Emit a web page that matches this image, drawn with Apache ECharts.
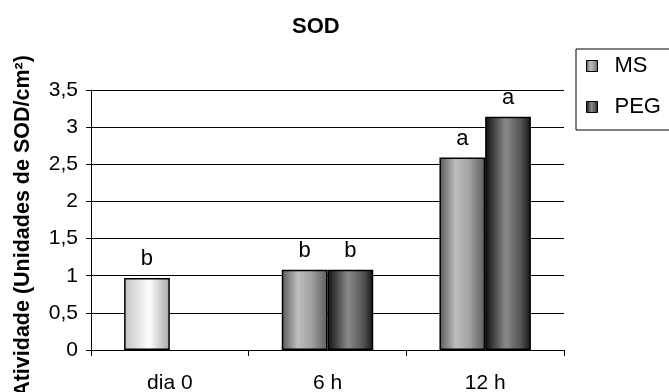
<!DOCTYPE html>
<html>
<head>
<meta charset="utf-8">
<script src="https://cdn.jsdelivr.net/npm/echarts@6/dist/echarts.min.js"></script>
<style>
  html, body { margin: 0; padding: 0; background: #fff; }
  #chart { width: 669px; height: 392px; }
</style>
</head>
<body>
<div id="chart"></div>
<script>
// SOD activity per sampling time
const categories = ['dia 0', '6 h', '12 h'];
const msValues = [0.97, 1.08, 2.59];
const pegValues = [null, 1.08, 3.14];
const msLetters = ['b', 'b', 'a'];
const pegLetters = ['', 'b', 'a'];
const yTicks = [0, 0.5, 1, 1.5, 2, 2.5, 3, 3.5];

const FONT = 'Liberation Sans, Arial, sans-serif';

function hGrad(stops) {
  return new echarts.graphic.LinearGradient(0, 0, 1, 0,
    stops.map(s => ({ offset: s[0], color: s[1] })));
}
const msFill = hGrad([[0, '#5a5a5a'], [0.35, '#bdbdbd'], [0.65, '#a2a2a2'], [1, '#5e5e5e']]);
const pegFill = hGrad([[0, '#101010'], [0.45, '#8a8a8a'], [0.8, '#505050'], [1, '#141414']]);
const baseFill = hGrad([[0, '#c2c2c2'], [0.55, '#ffffff'], [1, '#a6a6a6']]);

const chart = echarts.init(document.getElementById('chart'), null, { renderer: 'canvas' });

chart.setOption({
  animation: false,
  backgroundColor: '#ffffff',
  title: {
    text: 'SOD',
    left: 287,
    top: 11,
    textStyle: { fontFamily: FONT, fontSize: 22, fontWeight: 'bold', color: '#000' }
  },
  legend: {
    orient: 'vertical',
    left: 576,
    top: 49,
    padding: [6, 60, 12, 10],
    itemGap: 19,
    itemWidth: 11,
    itemHeight: 11,
    borderColor: '#000',
    borderWidth: 1,
    icon: 'rect',
    itemStyle: { borderColor: '#000', borderWidth: 1 },
    textStyle: { fontFamily: FONT, fontSize: 22, color: '#000', padding: [0, 0, 0, 12] },
    data: ['MS', 'PEG']
  },
  grid: { left: 91, right: 105, top: 90, bottom: 42, containLabel: false, outerBoundsMode: 'none' },
  xAxis: {
    type: 'category',
    data: categories,
    axisLine: { lineStyle: { color: '#000', width: 1 } },
    axisTick: { show: true, alignWithLabel: false, length: 6, lineStyle: { color: '#000' } },
    axisLabel: { fontFamily: FONT, fontSize: 21, color: '#000', margin: 23 }
  },
  yAxis: {
    type: 'value',
    min: yTicks[0],
    max: yTicks[yTicks.length - 1],
    interval: 0.5,
    name: 'Atividade (Unidades de SOD/cm²)',
    nameLocation: 'middle',
    nameRotate: 90,
    nameGap: 57,
    nameTextStyle: { fontFamily: FONT, fontSize: 21.5, fontWeight: 'bold', color: '#000', padding: [0, 12, 0, 0] },
    axisLine: { show: true, lineStyle: { color: '#000', width: 1 } },
    axisTick: { show: true, length: 5, lineStyle: { color: '#000' } },
    splitLine: { show: true, lineStyle: { color: '#000', width: 1 } },
    axisLabel: {
      fontFamily: FONT, fontSize: 21, color: '#000', margin: 13,
      formatter: v => String(v).replace('.', ',')
    }
  },
  series: [
    {
      name: 'MS',
      type: 'bar',
      barGap: '0%',
      barCategoryGap: '42%',
      data: msValues.map((v, i) => i === 0
        ? { value: v, itemStyle: { color: baseFill } }
        : v),
      itemStyle: { color: msFill, borderColor: '#000', borderWidth: 1.5 },
      label: {
        show: true, position: 'top', distance: 8,
        fontFamily: FONT, fontSize: 22, color: '#000',
        formatter: p => msLetters[p.dataIndex]
      }
    },
    {
      name: 'PEG',
      type: 'bar',
      barGap: '0%',
      barCategoryGap: '42%',
      data: pegValues,
      itemStyle: { color: pegFill, borderColor: '#000', borderWidth: 1.5 },
      label: {
        show: true, position: 'top', distance: 8,
        fontFamily: FONT, fontSize: 22, color: '#000',
        formatter: p => pegLetters[p.dataIndex]
      }
    }
  ]
});
</script>
</body>
</html>
